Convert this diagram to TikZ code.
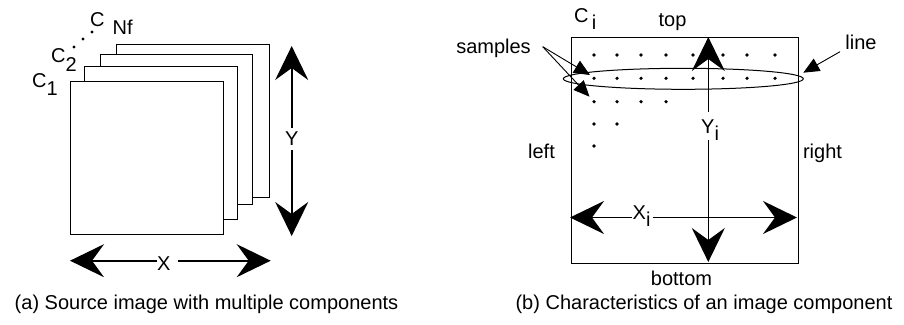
\documentclass[tikz,border=0pt]{standalone}
\usepackage{fontspec}
\setmainfont{Liberation Sans}
\usetikzlibrary{arrows.meta}
\begin{document}
\begin{tikzpicture}[x=1pt,y=-1pt,
  lbl/.style={font=\fontsize{20}{22}\selectfont, inner sep=0pt},
  big/.style={-{Stealth[length=34pt,width=33pt,inset=12pt]}, line width=1.6pt},
  small/.style={-{Triangle[length=16pt,width=14pt]}, line width=0.9pt},
  frame/.style={draw, line width=0.9pt, fill=white},
  dot/.style={circle, fill, inner sep=0pt, minimum size=3.6pt},
]
\useasboundingbox (0,0) rectangle (904,324);

% ---------- (a) stack of components ----------
\draw[frame] (116.3,44.3) rectangle (269,197.7);
\draw[frame] (100.3,54.3) rectangle (252.3,204.3);
\draw[frame] (84.7,66.7) rectangle (237,219);
\draw[frame] (70.3,81.3) rectangle (223,234.3);

\node[lbl, anchor=base west] (c1) at (32,87) {C\raisebox{-8pt}{1}};
\node[lbl, anchor=base west] (c2) at (51,62) {C\raisebox{-9pt}{2}};
\node[dot, minimum size=3.2pt] (d1) at (74,47) {};
\node[dot, minimum size=3.2pt] (d2) at (83,39) {};
\node[dot, minimum size=3.2pt] (d3) at (92,32) {};
\node[lbl, anchor=base west] (cn) at (90,27) {C\hspace{8pt}\raisebox{-8pt}{Nf}};

\node[lbl, inner sep=4pt] (Y) at (291.7,139) {Y};
\coordinate (ytop) at (291.7,46);
\coordinate (ybot) at (291.7,236);
\draw[big] (Y.north -| ytop) -- (ytop);
\draw[big] (Y.south -| ybot) -- (ybot);

\node[lbl, inner sep=0pt, anchor=base west] (X) at (157,270) {X};
\coordinate (xl) at (70,260.7);
\coordinate (xr) at (270.7,260.7);
\draw[big] (X.west |- xl) -- (xl);
\draw[big] ([xshift=7pt]X.east |- xr) -- (xr);

\node[lbl, anchor=base] (capa) at (206.5,309) {(a) Source image with multiple components};

% ---------- (b) one component ----------
\draw[frame] (571,37) rectangle (798,263);

\foreach \x in {594,617,641,666,693,723,747,775} {
  \node[dot] at (\x,55) {};
  \node[dot] at (\x,78.3) {};
}
\foreach \x in {594,617,641,666} \node[dot] at (\x,101.7) {};
\foreach \x in {594,617} \node[dot] at (\x,124) {};
\node[dot] at (594,146) {};

\draw[line width=1pt] (683.3,78.8) ellipse [x radius=120pt, y radius=10.5pt];

\node[lbl, anchor=base west] (ci) at (574,23) {C\raisebox{-6pt}{\,i}};
\node[lbl, anchor=base] (top) at (672.5,26) {top};
\node[lbl, anchor=base] (samples) at (493.5,53) {samples};
\node[lbl, anchor=base] (left) at (541.5,158) {left};
\node[lbl, anchor=base] (right) at (822.5,158) {right};
\node[lbl, anchor=base] (bottom) at (681.5,285) {bottom};
\node[lbl, anchor=base] (line) at (861,49) {line};

\coordinate (s0) at (542.7,46.7);
\coordinate (s1) at (590,75);
\coordinate (s2) at (589.5,96.7);
\draw[small] (s0) -- (s1);
\draw[small] (s0) -- (s2);
\coordinate (l0) at (840,51.7);
\coordinate (l1) at (803.3,72.7);
\draw[small] (l0) -- (l1);

\node[lbl, anchor=base west] (Yi) at (701,133.3) {Y\raisebox{-7pt}{i}};
\coordinate (yit) at (708.3,37);
\coordinate (yib) at (708.3,262);
\coordinate (yia) at (708.3,111.7);
\coordinate (yiz) at (708.3,140);
\draw[big] (yia) -- (yit);
\draw[big] (yiz) -- (yib);

\node[lbl, anchor=base west] (Xi) at (632.5,219) {X\raisebox{-7pt}{i}};
\coordinate (xil) at (570,217.5);
\coordinate (xir) at (797,217.5);
\draw[big] ([xshift=-1pt]Xi.west |- xil) -- (xil);
\draw[big] ([xshift=2pt]Xi.east |- xir) -- (xir);

\node[lbl, anchor=base] (capb) at (704,309) {(b) Characteristics of an image component};
\end{tikzpicture}
\end{document}
